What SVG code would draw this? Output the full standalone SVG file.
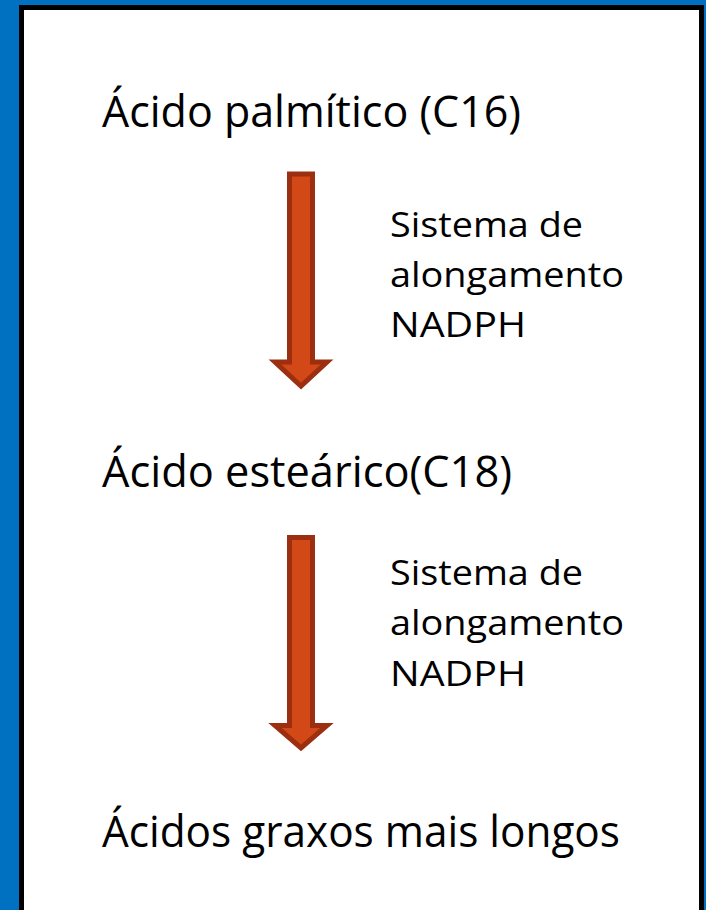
<svg xmlns="http://www.w3.org/2000/svg" width="706" height="910" viewBox="0 0 706 910">
  <defs>
    <style>
      .main { font-family: "Open Sans", "Noto Sans", "Liberation Sans", sans-serif; font-size: 44px; fill: #000; }
      .side { font-family: "Open Sans", "Noto Sans", "Liberation Sans", sans-serif; font-size: 35px; fill: #000; }
      .arrow { fill: #D34817; stroke: #9B2F0F; stroke-width: 5; stroke-linejoin: miter; }
    </style>
  </defs>
  <rect x="0" y="0" width="706" height="910" fill="#0070C0"/>
  <rect x="21.5" y="7.5" width="680" height="1000" fill="#FFFFFF" stroke="#000000" stroke-width="5"/>

  <g id="node-palmitico">
    <text class="main" x="102" y="127" textLength="419" lengthAdjust="spacingAndGlyphs">Ácido palmítico (C16)</text>
  </g>
  <g id="node-estearico">
    <text class="main" x="102" y="487" textLength="410" lengthAdjust="spacingAndGlyphs">Ácido esteárico(C18)</text>
  </g>
  <g id="node-longos">
    <text class="main" x="102" y="847" textLength="518" lengthAdjust="spacingAndGlyphs">Ácidos graxos mais longos</text>
  </g>

  <g id="connectors">
    <g id="arrow1">
      <path class="arrow" d="M289.5,174 H312.5 V362 H327 L301,386 L275,362 H289.5 Z"/>
      <text class="side" x="390" y="237" textLength="193" lengthAdjust="spacingAndGlyphs">Sistema de</text>
      <text class="side" x="390" y="287" textLength="234" lengthAdjust="spacingAndGlyphs">alongamento</text>
      <text class="side" x="390" y="337" textLength="136" lengthAdjust="spacingAndGlyphs">NADPH</text>
    </g>
    <g id="arrow2">
      <path class="arrow" d="M289.5,537.5 H312.5 V725.5 H327 L301,748 L275,725.5 H289.5 Z"/>
      <text class="side" x="390" y="585" textLength="193" lengthAdjust="spacingAndGlyphs">Sistema de</text>
      <text class="side" x="390" y="635" textLength="234" lengthAdjust="spacingAndGlyphs">alongamento</text>
      <text class="side" x="390" y="686" textLength="136" lengthAdjust="spacingAndGlyphs">NADPH</text>
    </g>
  </g>
</svg>
